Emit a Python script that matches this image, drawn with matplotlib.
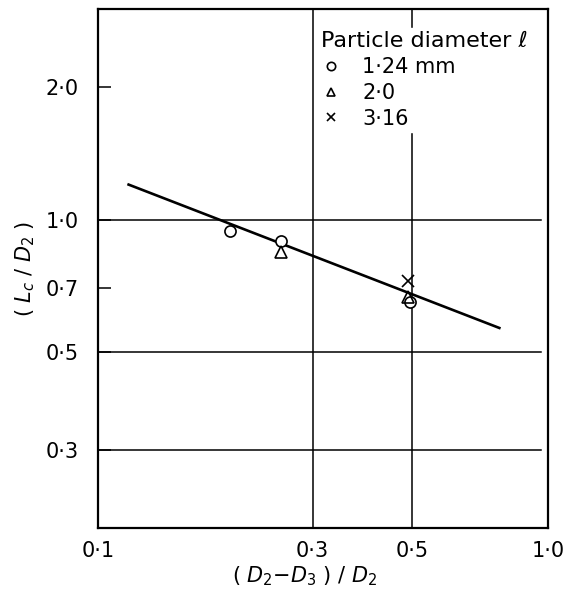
import matplotlib
matplotlib.use("Agg")
import matplotlib.pyplot as plt
from matplotlib.lines import Line2D

# values
d124_x = [0.197, 0.255, 0.495]
d124_y = [0.94, 0.895, 0.65]
d20_x = [0.255, 0.488]
d20_y = [0.845, 0.668]
d316_x = [0.49]
d316_y = [0.725]

fit_x = [0.117, 0.78]
fit_y = [1.2, 0.568]

xticks = [0.1, 0.3, 0.5, 1.0]
xtick_labels = ["0·1", "0·3", "0·5", "1·0"]
yticks = [0.3, 0.5, 0.7, 1.0, 2.0]
ytick_labels = ["0·3", "0·5", "0·7", "1·0", "2·0"]
h_grid = [0.3, 0.5, 1.0]
v_grid = [0.3, 0.5]

legend_labels = ["1·24 mm", "2·0", "3·16"]

plt.rcParams['font.family'] = ['DejaVu Sans']
plt.rcParams['mathtext.fontset'] = 'dejavusans'

fig = plt.figure(figsize=(5.66, 5.96), dpi=100)
ax = fig.add_axes([0.173, 0.114, 0.795, 0.871])
ax.set_xscale('log')
ax.set_yscale('log')
ax.set_xlim(0.1, 1.0)
ax.set_ylim(0.2, 3.0)

for y in h_grid:
    ax.axhline(y, xmin=0, xmax=0.985, color='black', lw=1.1, zorder=1)
for x in v_grid:
    ax.axvline(x, color='black', lw=1.1, zorder=1)

ax.plot(fit_x, fit_y, color='black', lw=1.9, zorder=2)

ax.plot(d124_x, d124_y, 'o', ms=8, mfc='white', mec='black', mew=1.2, zorder=3)
ax.plot(d20_x, d20_y, '^', ms=8, mfc='none', mec='black', mew=1.2, zorder=3)
ax.plot(d316_x, d316_y, 'x', ms=8, color='black', mew=1.2, zorder=3)

ax.set_xticks(xticks)
ax.set_xticklabels(xtick_labels)
ax.set_yticks(yticks)
ax.set_yticklabels(ytick_labels)
ax.minorticks_off()
ax.tick_params(axis='x', length=0, pad=9, labelsize=15)
ax.tick_params(axis='y', direction='in', length=9, width=1.1, pad=14, labelsize=15)

for s in ax.spines.values():
    s.set_linewidth(1.6)

ax.set_xlabel("( $D_2$−$D_3$ ) / $D_2$", fontsize=15)
ax.xaxis.set_label_coords(0.46, -0.07)
ax.set_ylabel("( $L_c$ / $D_2$ )", fontsize=15, labelpad=6)

handles = [
    Line2D([], [], ls='none', marker='o', ms=6, mfc='white', mec='black', mew=1.2),
    Line2D([], [], ls='none', marker='^', ms=6, mfc='white', mec='black', mew=1.2),
    Line2D([], [], ls='none', marker='x', ms=6, color='black', mew=1.2),
]
leg = ax.legend(handles, legend_labels, title="Particle diameter ℓ",
                loc='upper left', bbox_to_anchor=(0.488, 0.963), borderaxespad=0,
                frameon=True, facecolor='white', edgecolor='white', framealpha=1,
                fancybox=False, fontsize=15, title_fontsize=16,
                handlelength=1.0, handletextpad=1.0, labelspacing=0.28,
                borderpad=0.15, alignment='left')

fig.savefig("out.png", dpi=100)
